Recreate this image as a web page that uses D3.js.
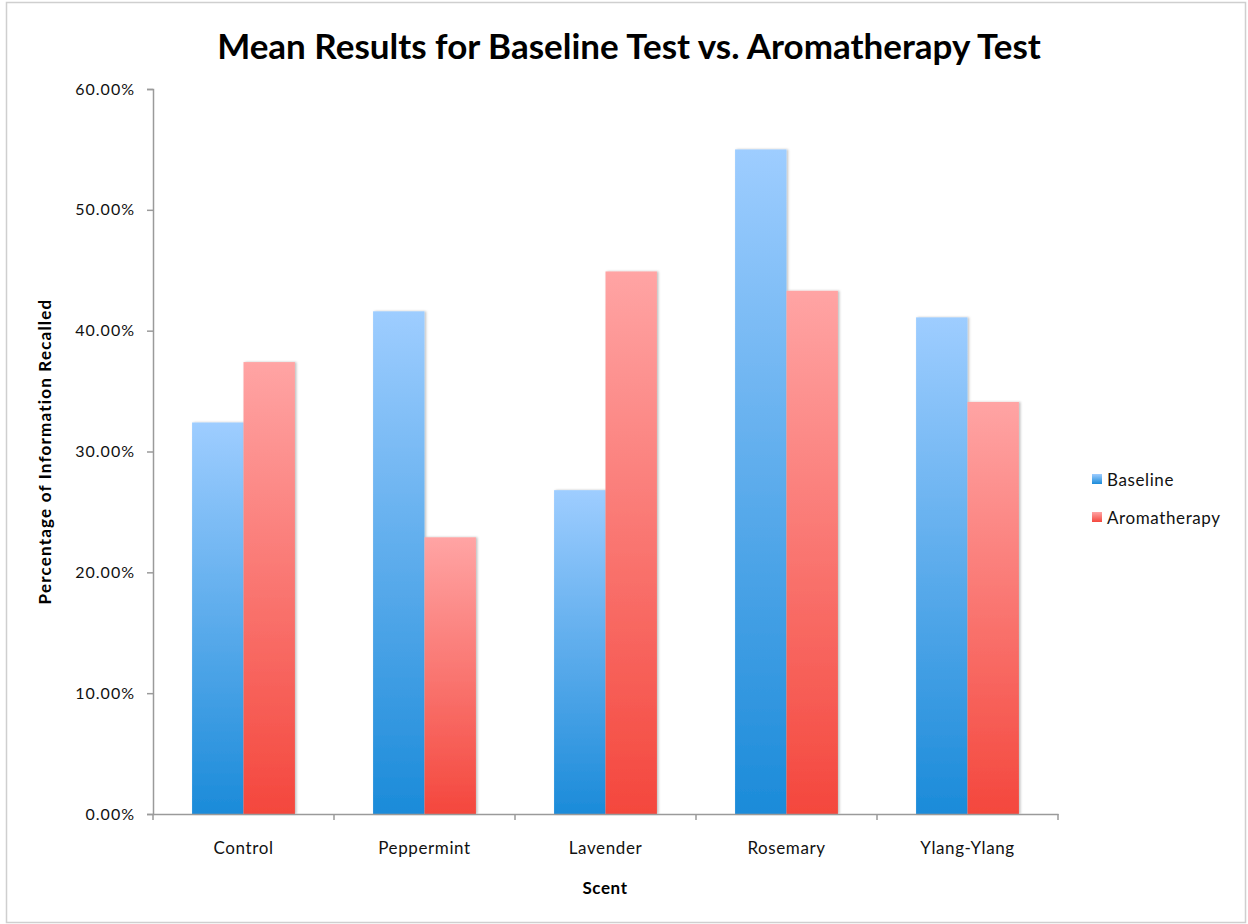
<!DOCTYPE html>
<html lang="en">
<head>
  <meta charset="UTF-8" />
  <title>Mean Results for Baseline Test vs. Aromatherapy Test</title>
  <script src="https://d3js.org/d3.v7.min.js"></script>
  <style>
    body { margin: 0; background: #fff; font-family: Lato, "Open Sans", sans-serif; }
    svg { display: block; }
    .tick text { font-family: Lato, sans-serif; fill: #111; }
    .axis-title { font-weight: bold; fill: #000; }
  </style>
</head>
<body>
<svg width="1248" height="924"></svg>
<script>
  // Données
  const scents = ["Control", "Peppermint", "Lavender", "Rosemary", "Ylang-Ylang"];
  const series = ["Baseline", "Aromatherapy"];
  const baseline = [0.324, 0.416, 0.268, 0.550, 0.411];
  const aromatherapy = [0.374, 0.229, 0.449, 0.433, 0.341];
  const yTicks = [0, 0.1, 0.2, 0.3, 0.4, 0.5, 0.6];

  const svg = d3.select("svg"),
        margin = {top: 89, right: 190, bottom: 110, left: 153},
        width = +svg.attr("width") - margin.left - margin.right,
        height = +svg.attr("height") - margin.top - margin.bottom;

  // cadre autour de l'image
  svg.append("rect")
     .attr("x", 6.5).attr("y", 2.5)
     .attr("width", 1239).attr("height", 920)
     .attr("fill", "none")
     .attr("stroke", "#cfcfcf")
     .attr("stroke-width", 1.5);

  const defs = svg.append("defs");
  const gradColors = {
    Baseline: ["#9ecdff", "#1b8bd9"],
    Aromatherapy: ["#ffa4a4", "#f4473d"]
  };
  series.forEach(s => {
    const grad = defs.append("linearGradient")
                     .attr("id", "grad-" + s)
                     .attr("x1", 0).attr("y1", 0)
                     .attr("x2", 0).attr("y2", 1);
    grad.append("stop").attr("offset", "0%").attr("stop-color", gradColors[s][0]);
    grad.append("stop").attr("offset", "100%").attr("stop-color", gradColors[s][1]);
  });

  const shadow = defs.append("filter").attr("id", "shadow")
                     .attr("x", "-10%").attr("y", "-10%").attr("width", "130%").attr("height", "130%");
  shadow.append("feDropShadow")
        .attr("dx", 1.5).attr("dy", 0).attr("stdDeviation", 1)
        .attr("flood-color", "#000").attr("flood-opacity", 0.25);

  const g = svg.append("g").attr("transform", `translate(${margin.left},${margin.top})`);

  const x = d3.scaleBand().domain(scents).range([0, width]).paddingInner(0).paddingOuter(0);
  const xs = d3.scaleBand().domain(series).range([0, x.bandwidth()]).paddingInner(0).paddingOuter(0.76);
  const y = d3.scaleLinear().domain([0, 0.6]).range([height, 0]);

  // grille
  g.append("g")
   .selectAll("line")
   .data(yTicks.slice(1))
   .enter().append("line")
   .attr("x1", 0).attr("x2", width)
   .attr("y1", d => y(d)).attr("y2", d => y(d))
   .attr("stroke", "#a8a8a8")
   .attr("stroke-width", 1.5)
   .attr("filter", "url(#shadow)");

  // barres
  const data = scents.map((s, i) => ({scent: s, Baseline: baseline[i], Aromatherapy: aromatherapy[i]}));
  const groups = g.selectAll(".grp")
                  .data(data)
                  .enter().append("g")
                  .attr("transform", d => `translate(${x(d.scent)},0)`);

  groups.selectAll("rect")
        .data(d => series.map(k => ({key: k, value: d[k]})))
        .enter().append("rect")
        .attr("x", d => xs(d.key))
        .attr("y", d => y(d.value))
        .attr("width", xs.bandwidth())
        .attr("height", d => y(0) - y(d.value))
        .attr("fill", d => `url(#grad-${d.key})`)
        .attr("filter", "url(#shadow)");

  // axes
  const yAxis = g.append("g")
                 .call(d3.axisLeft(y).tickValues(yTicks).tickFormat(d3.format(".2%")).tickSize(6).tickPadding(12));
  yAxis.selectAll("path, line").attr("stroke", "#9a9a9a").attr("stroke-width", 1.5);
  yAxis.selectAll("text").attr("font-size", 16).attr("letter-spacing", 1);

  const xAxis = g.append("g")
                 .attr("transform", `translate(0,${height})`)
                 .call(d3.axisBottom(x).tickSizeInner(0).tickSizeOuter(0).tickPadding(28));
  xAxis.select(".domain").attr("stroke", "#9a9a9a").attr("stroke-width", 1.5);
  xAxis.selectAll("text").attr("font-size", 17).attr("letter-spacing", 0.6);

  // petites graduations entre catégories
  g.append("g")
   .selectAll("line")
   .data(d3.range(scents.length + 1))
   .enter().append("line")
   .attr("x1", i => i * x.step()).attr("x2", i => i * x.step())
   .attr("y1", height).attr("y2", height + 6)
   .attr("stroke", "#9a9a9a")
   .attr("stroke-width", 1.5);

  // titres
  svg.append("text")
     .attr("x", 629).attr("y", 59)
     .attr("text-anchor", "middle")
     .attr("class", "axis-title")
     .attr("font-size", 35)
     .text("Mean Results for Baseline Test vs. Aromatherapy Test");

  svg.append("text")
     .attr("class", "axis-title")
     .attr("x", 605)
     .attr("y", 894)
     .attr("text-anchor", "middle")
     .attr("font-size", 17)
     .attr("letter-spacing", 0.6)
     .text("Scent");

  svg.append("text")
     .attr("class", "axis-title")
     .attr("transform", `translate(51,${margin.top + height / 2}) rotate(-90)`)
     .attr("text-anchor", "middle")
     .attr("font-size", 17)
     .attr("letter-spacing", 1.2)
     .text("Percentage of Information Recalled");

  // légende
  const legend = svg.append("g").attr("transform", "translate(1092,474)");
  series.forEach((s, i) => {
    legend.append("rect")
          .attr("x", 0).attr("y", i * 38)
          .attr("width", 10).attr("height", 10)
          .attr("fill", `url(#grad-${s})`);
    legend.append("text")
          .attr("x", 15).attr("y", i * 38 + 12)
          .attr("font-size", 17)
          .attr("letter-spacing", 0.6)
          .attr("fill", "#111")
          .text(s);
  });
</script>
</body>
</html>
